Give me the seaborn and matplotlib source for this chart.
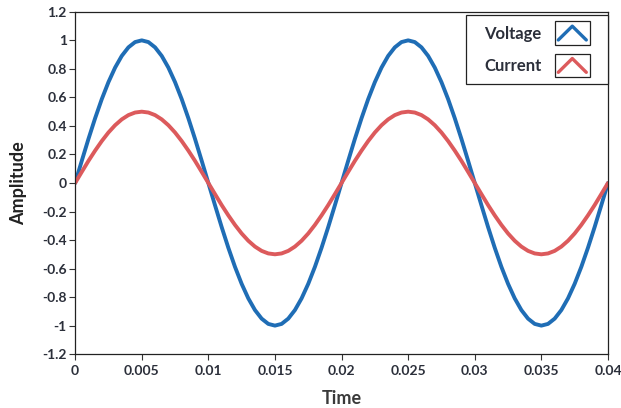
import numpy as np
import pandas as pd
import matplotlib
matplotlib.use("Agg")
import matplotlib.pyplot as plt
import seaborn as sns
from matplotlib.legend_handler import HandlerBase
from matplotlib.lines import Line2D
from matplotlib.patches import Rectangle
from matplotlib.path import Path

time = [round(i * 0.0005, 4) for i in range(81)]
voltage_half = [0.0, 0.156, 0.309, 0.454, 0.588, 0.707, 0.809, 0.891, 0.951, 0.988,
                1.0, 0.988, 0.951, 0.891, 0.809, 0.707, 0.588, 0.454, 0.309, 0.156]
voltage = (voltage_half + [-v for v in voltage_half]
           + voltage_half + [-v for v in voltage_half] + [0.0])
current_half = [0.0, 0.078, 0.155, 0.227, 0.294, 0.354, 0.405, 0.446, 0.476, 0.494,
                0.5, 0.494, 0.476, 0.446, 0.405, 0.354, 0.294, 0.227, 0.155, 0.078]
current = (current_half + [-v for v in current_half]
           + current_half + [-v for v in current_half] + [0.0])
series_names = ["Voltage", "Current"]
colors = ["#1f6db5", "#dc5a5c"]
xticks = [0, 0.005, 0.01, 0.015, 0.02, 0.025, 0.03, 0.035, 0.04]
xticklabels = ["0", "0.005", "0.01", "0.015", "0.02", "0.025", "0.03", "0.035", "0.04"]
yticks = [1.2, 1, 0.8, 0.6, 0.4, 0.2, 0, -0.2, -0.4, -0.6, -0.8, -1, -1.2]
yticklabels = ["1.2", "1", "0.8", "0.6", "0.4", "0.2", "0", "-0.2", "-0.4", "-0.6", "-0.8", "-1", "-1.2"]

df = pd.DataFrame({
    "Time": time * 2,
    "Amplitude": voltage + current,
    "Signal": ["Voltage"] * len(time) + ["Current"] * len(time),
})

sns.set_theme(style="white")
plt.rcParams["font.family"] = ["Lato", "DejaVu Sans"]
plt.rcParams["font.weight"] = "bold"

fig = plt.figure(figsize=(6.21, 4.08), dpi=100)
ax = fig.add_axes([0.121, 0.132, 0.858, 0.839])

sns.lineplot(data=df, x="Time", y="Amplitude", hue="Signal",
             hue_order=series_names, palette=colors, linewidth=2.8,
             ax=ax, legend=False)

ax.set_xlim(0, 0.04)
ax.set_ylim(-1.2, 1.2)
ax.set_xticks(xticks)
ax.set_xticklabels(xticklabels)
ax.set_yticks(yticks)
ax.set_yticklabels(yticklabels)
ax.tick_params(axis="both", direction="out", length=4, width=0.8,
               color="#333333", labelsize=10, labelcolor="#2b2f3a", pad=2,
               bottom=True, left=True)
ax.tick_params(axis="x", pad=4)
for lab in ax.get_xticklabels() + ax.get_yticklabels():
    lab.set_fontweight("bold")
for s in ax.spines.values():
    s.set_color("#222222")
    s.set_linewidth(0.9)

ax.set_xlabel("Time", fontsize=13, fontweight="bold", color="#3a3a3a")
ax.set_ylabel("Amplitude", fontsize=13, fontweight="bold", color="#222222")
ax.xaxis.set_label_coords(0.5, -0.105)
ax.yaxis.set_label_coords(-0.09, 0.5)


class ChevronHandler(HandlerBase):
    def create_artists(self, legend, orig_handle, xdescent, ydescent,
                       width, height, fontsize, trans):
        col = orig_handle.get_color()
        e = 2
        rect = Rectangle((-xdescent, -ydescent - e), width, height + 2 * e,
                         facecolor="white", edgecolor="#222222", lw=0.9,
                         transform=trans)
        x0 = -xdescent + width * 0.1
        x1 = -xdescent + width * 0.5
        x2 = -xdescent + width * 0.9
        yb = -ydescent + height * 0.12
        yt = -ydescent + height * 0.88
        line = Line2D([x0, x1, x2], [yb, yt, yb], color=col, lw=2.4,
                      transform=trans)
        return [rect, line]


class WideSquare:
    """Square frame with extra horizontal padding (pixels)."""
    def __init__(self, padx):
        self.padx = padx

    def __call__(self, x0, y0, width, height, mutation_size):
        xa = x0 - self.padx
        xb = x0 + width + self.padx
        ya, yb = y0, y0 + height
        return Path([(xa, ya), (xb, ya), (xb, yb), (xa, yb), (xa, ya)],
                    closed=True)


extra = 9
axw = 0.858 * 621
axh = 0.839 * 408
handles = [Line2D([], [], color=c) for c in colors]
leg = ax.legend(handles, series_names, loc="upper right",
                bbox_to_anchor=(1.0 - extra / axw, 1.0 - 3 / axh),
                markerfirst=False,
                handler_map={Line2D: ChevronHandler()},
                handlelength=2.1, handleheight=1.3, labelspacing=0.85,
                handletextpad=0.78, borderpad=0.55, borderaxespad=0.0,
                fancybox=False, framealpha=1.0, edgecolor="#222222",
                prop={"weight": "bold", "size": 12})
leg.get_frame().set_linewidth(0.9)
leg.get_frame().set_boxstyle(WideSquare(extra))
for t in leg.get_texts():
    t.set_color("#2b2f3a")

fig.savefig("out.png", dpi=100)
